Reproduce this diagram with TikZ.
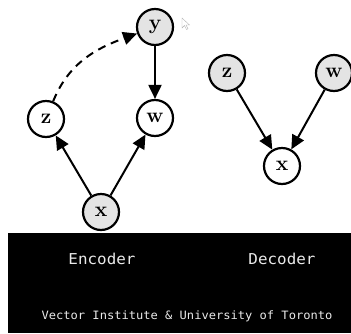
\documentclass[tikz,border=0pt]{standalone}
\usepackage{fontspec}
\newfontfamily\monofont{DejaVu Sans Mono}
\usetikzlibrary{arrows.meta}
\definecolor{nodegray}{HTML}{E4E4E4}
\definecolor{captiongray}{HTML}{EAEAEA}
\tikzset{
  var/.style={circle, draw=black, line width=2.2pt, minimum size=36pt, inner sep=0pt,
    fill=white, font=\fontsize{21}{21}\selectfont\bfseries},
  obs/.style={var, fill=nodegray},
  edge/.style={line width=2pt, -{Triangle[length=14pt,width=13pt]}},
  caption/.style={text=captiongray, font=\monofont\fontsize{15}{16}\selectfont, xscale=1.06},
  credit/.style={text=captiongray, font=\monofont\fontsize{11.5}{12}\selectfont, xscale=1.05},
}
\begin{document}
\begin{tikzpicture}[x=1pt, y=-1pt]
  \useasboundingbox (0,0) rectangle (351,333);
  \clip (0,0) rectangle (351,333);

  % encoder graph
  \node[obs] (ey) at (155,27) {y};
  \node[var] (ez) at (46,119) {z};
  \node[var] (ew) at (155,118) {w};
  \node[obs] (ex) at (101,212) {x};
  \draw[edge] (ex) -- (ez);
  \draw[edge] (ex) -- (ew);
  \draw[edge] (ey) -- (ew);
  \draw[edge, dash pattern=on 8pt off 6pt] (ez) to[out=68, in=200] (ey);

  % pointer
  \draw[gray!60, line width=0.4pt, fill=white]
    (182,18) -- (182,28) -- (184.5,25.5) -- (186.5,29.5) -- (188,28.8) -- (186,25) -- (189.5,25) -- cycle;

  % decoder graph
  \node[obs] (dz) at (227,73) {z};
  \node[obs] (dw) at (334,73) {w};
  \node[var] (dx) at (282,166) {x};
  \draw[edge] (dz) -- (dx);
  \draw[edge] (dw) -- (dx);

  % caption band
  \fill[black] (8,233) rectangle (351,333);
  \node[caption] (enc) at (102,259) {Encoder};
  \node[caption] (dec) at (282,259) {Decoder};
  \node[credit] (cred) at (187,316) {Vector Institute \& University of Toronto};
\end{tikzpicture}
\end{document}
